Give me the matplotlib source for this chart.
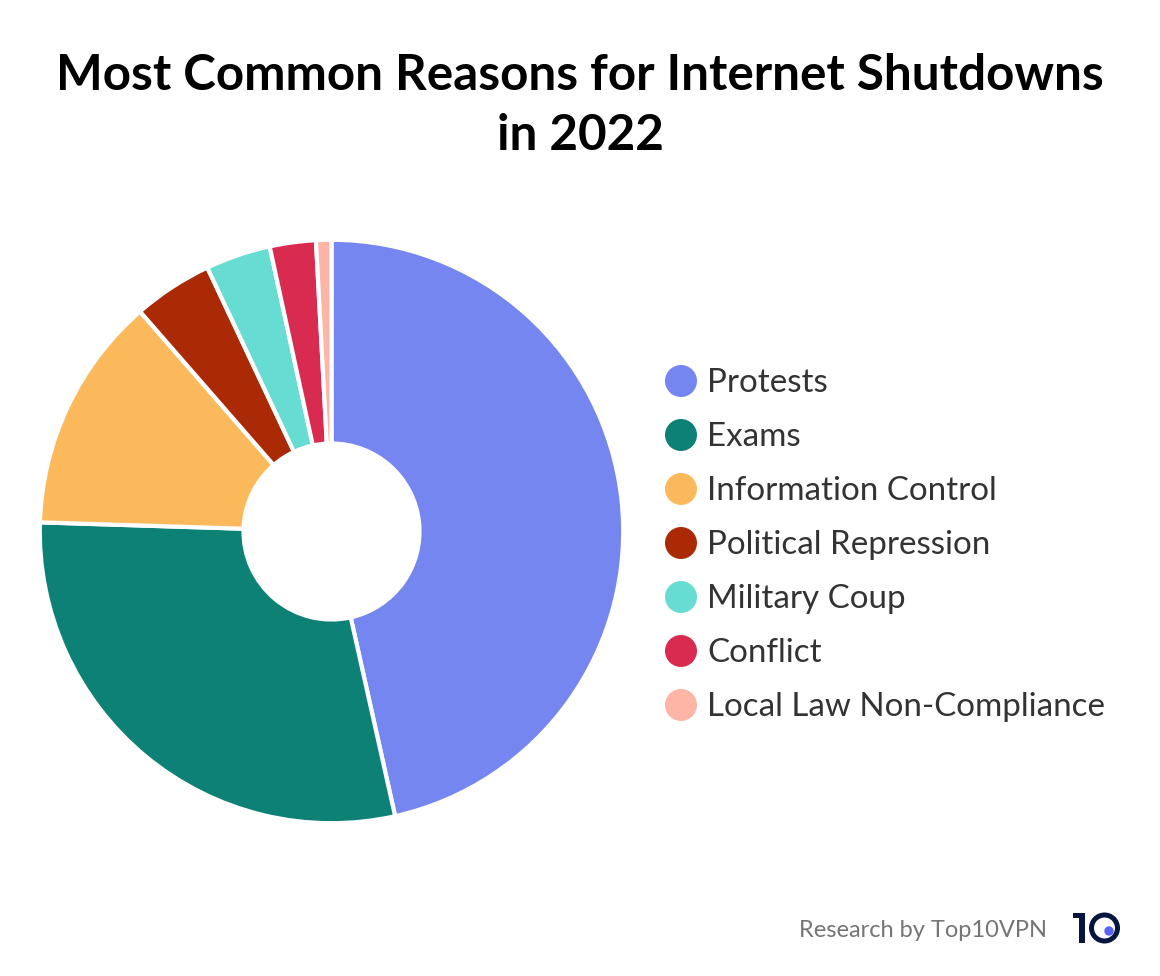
import matplotlib
matplotlib.use('Agg')
import matplotlib.pyplot as plt
from matplotlib.patches import Circle, Rectangle

labels = ['Protests', 'Exams', 'Information Control', 'Political Repression',
          'Military Coup', 'Conflict', 'Local Law Non-Compliance']
shares = [46.5, 29.0, 13.1, 4.4, 3.6, 2.55, 0.85]
colors = ['#7686F1', '#0E8177', '#FBB95C', '#AB2A06', '#67DCD3', '#D92B50', '#FDB6A5']
title_lines = ['Most Common Reasons for Internet Shutdowns', 'in 2022']
credit = 'Research by Top10VPN'

W, H = 1160, 976
plt.rcParams['font.family'] = ['Lato', 'DejaVu Sans']

fig = plt.figure(figsize=(W / 100, H / 100), dpi=100, facecolor='white')

# overlay in pixel coords for legend, title and footer
bg = fig.add_axes([0, 0, 1, 1])
bg.set_xlim(0, W)
bg.set_ylim(H, 0)
bg.axis('off')

# pie, radius a bit larger since the white edge eats into it
cx, cy, r = 331.5, 531.5, 291.7
ax = fig.add_axes([(cx - r) / W, 1 - (cy + r) / H, 2 * r / W, 2 * r / H])
ax.pie(shares, colors=colors, startangle=90, counterclock=False, radius=1,
       wedgeprops=dict(width=1 - 88 / r, edgecolor='white', linewidth=3))
ax.set_xlim(-1, 1)
ax.set_ylim(-1, 1)
ax.set_aspect('equal')
ax.axis('off')

bg.text(580, 75, title_lines[0], ha='center', va='center',
        fontsize=35.6, fontweight='bold', color='black')
bg.text(580, 136, title_lines[1], ha='center', va='center',
        fontsize=35.6, fontweight='bold', color='black')

for i, (lab, col) in enumerate(zip(labels, colors)):
    y = 381 + 54 * i
    bg.add_patch(Circle((681, y), 16, facecolor=col, edgecolor='none'))
    bg.text(707, y + 2.5, lab, ha='left', va='center', fontsize=23.85, color='#333333')

bg.text(1047, 930.5, credit, ha='right', va='center', fontsize=17, color='#757575')

# logo
navy = '#061440'
bg.add_patch(Rectangle((1079, 913), 6, 30, facecolor=navy, edgecolor='none'))
bg.add_patch(Rectangle((1073, 913), 7, 5, facecolor=navy, edgecolor='none'))
bg.add_patch(Circle((1104.5, 928), 13, facecolor='none', edgecolor=navy, linewidth=3.6))
bg.add_patch(Circle((1109, 931), 4.7, facecolor='#5B63F5', edgecolor='none'))

fig.savefig('out.png', dpi=100)
